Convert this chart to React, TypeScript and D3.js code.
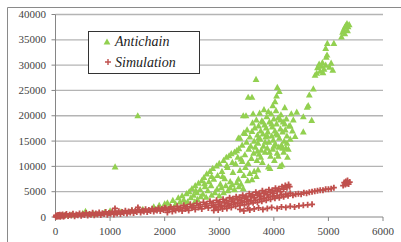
import React from 'react';
import * as d3 from 'd3';

// Antichain points
const antichainLow: [number, number][] = [
  [50, 200], [150, 300], [300, 400], [500, 700], [550, 1100], [700, 600], [900, 900],
  [1000, 1200], [1200, 1000], [1400, 1300], [1600, 1500], [1800, 2000], [1900, 2300], [2000, 2600],
];
const antichainOutliers: [number, number][] = [[1092, 9900], [1507, 20000]];
const antichainRise: [number, number][] = [
  [2050, 2800], [2100, 2200], [2150, 3300], [2200, 2600], [2250, 3800], [2280, 3000], [2320, 4200],
  [2350, 3400], [2400, 4600], [2420, 3000], [2450, 5000], [2480, 3800], [2500, 5600], [2530, 4300],
  [2560, 6200], [2590, 4800], [2600, 3500], [2620, 6700], [2650, 5400], [2680, 7200], [2700, 4500],
  [2720, 7800], [2740, 6000], [2770, 8500], [2790, 5200], [2810, 7000], [2830, 9000], [2850, 6200],
  [2880, 9600], [2900, 7500], [2920, 4800], [2950, 10100], [2970, 8200], [3000, 10600], [3020, 6500],
  [3050, 9000], [3080, 11200], [3100, 7600], [3130, 11800], [3150, 9800], [3180, 12100], [3200, 7000],
  [3220, 12500], [3250, 8800], [3280, 12800], [3300, 10500], [3320, 13100], [3350, 7500], [3380, 9200],
  [3400, 6500], [3420, 11000], [3450, 8200], [3480, 9800], [3520, 7200], [3560, 8600], [3600, 7400],
  [3640, 9000], [3680, 8000], [3710, 9300],
  [2960, 5500], [3000, 4200], [3040, 5800], [3080, 4800], [3120, 6200], [3160, 5200], [3200, 5800],
  [3240, 6400], [3280, 5400], [3320, 6800], [3360, 6000], [3440, 5600], [2860, 4300], [2760, 3900],
  [2660, 4000], [2550, 3000], [2380, 2600], [2860, 8000], [3060, 8000], [3140, 10200], [3240, 10800],
  [3340, 11800], [2730, 6600], [2570, 5200],
];
const antichainCloud: [number, number][] = [
  [3360, 13500], [3380, 15600], [3400, 11500], [3420, 14200], [3440, 20000], [3450, 16600], [3470, 12300],
  [3490, 20000], [3500, 14800], [3510, 17200], [3530, 10600], [3540, 13400], [3560, 15800], [3577, 14000],
  [3590, 11600], [3600, 16900], [3610, 18600], [3630, 12600], [3640, 15000], [3650, 17600], [3660, 13800],
  [3680, 19200], [3690, 11200], [3700, 16200], [3710, 14600], [3720, 18000], [3730, 12400], [3740, 20500],
  [3750, 15400], [3760, 17000], [3770, 13200], [3780, 19000], [3790, 10800], [3800, 16400], [3810, 14000],
  [3820, 21200], [3830, 18200], [3840, 12800], [3850, 15800], [3860, 17600], [3870, 19800], [3880, 13600],
  [3890, 16800], [3900, 9900], [3910, 14800], [3920, 18800], [3930, 9600], [3940, 12000], [3950, 20400],
  [3960, 16000], [3970, 17800], [3980, 13400], [3990, 15200], [4000, 19400], [4010, 11200], [4020, 17000],
  [4030, 14400], [4040, 21000], [4050, 18400], [4060, 12600], [4070, 16200], [4080, 19600], [4090, 13800],
  [4100, 15600], [4114, 10000], [4120, 17400], [4130, 20200], [4140, 14200], [4150, 10300], [4160, 16800],
  [4170, 18800], [4180, 12800], [4190, 15000], [4200, 21600], [4210, 17200], [4220, 13600], [4230, 19400],
  [4240, 16000], [4250, 11800], [4266, 13400], [4280, 18000], [4300, 15400], [4320, 20400], [4340, 17000],
  [3530, 23650], [3600, 23650], [3674, 27200], [4022, 22800], [4050, 23900], [4064, 25600], [4100, 24800],
  [3350, 15600], [3470, 16500],
  [3720, 15600], [3760, 11800], [3800, 18800], [3840, 14800], [3880, 16000], [3920, 12800], [3960, 18400],
  [4000, 14000], [4040, 16400], [4080, 12000], [4120, 19200], [4160, 13600], [4200, 18400], [4240, 14600],
  [3620, 20400], [3980, 22000], [3700, 13000], [3900, 20800],
];
const antichainTail: [number, number][] = [
  [4300, 18000], [4357, 19200], [4390, 15900], [4420, 20700], [4540, 19800], [4540, 16800], [4610, 21700],
  [4630, 22000], [4650, 24100], [4694, 19100], [4724, 25300], [4755, 28000], [4786, 28400], [4800, 29500],
  [4830, 30200], [4850, 28800], [4870, 29800], [4890, 30500], [4900, 28500], [4920, 29200], [4950, 30000],
  [4960, 31600], [4975, 32000], [4950, 33300], [4980, 34300], [5020, 29600], [5050, 30400], [5080, 29000],
  [5100, 34300], [5240, 35600], [5260, 36500], [5280, 37000], [5300, 37500], [5320, 37800], [5340, 38200],
  [5360, 37600], [5380, 38000], [5300, 36200], [5350, 36800],
];

// Simulation points
const simulationLow: [number, number][] = [
  [5, 50], [10, 300], [30, 100], [50, 400], [70, 200], [90, 50], [110, 350], [140, 150], [170, 250],
  [20, 150], [40, 350], [60, 80], [80, 420], [100, 250], [130, 500], [150, 120], [180, 380], [200, 600],
  [230, 200], [260, 450], [290, 300], [320, 650], [350, 150], [380, 500], [410, 350], [440, 700], [470, 250],
  [500, 550], [530, 400], [560, 800], [590, 300], [620, 600], [650, 450], [680, 850], [710, 350], [740, 700],
  [770, 500], [800, 900], [830, 400], [860, 750], [890, 600], [920, 1000], [950, 450], [980, 800], [1010, 650],
  [1040, 1100], [1070, 500], [1090, 1700], [1100, 900], [1130, 700], [1160, 1150], [1190, 600], [1220, 1000],
  [1250, 800], [1280, 1250], [1310, 700], [1340, 1100], [1370, 900], [1400, 1350], [1430, 800], [1460, 1200],
  [1490, 1000], [1510, 1900], [1530, 1450], [1560, 900], [1590, 1300], [1620, 1100], [1650, 1550], [1680, 1000],
  [1710, 1400], [1740, 1200], [1770, 1650], [1800, 1100], [1830, 1500], [1860, 1300], [1890, 1750], [1920, 1200],
  [1950, 1600], [1980, 1400], [2000, 1850],
];
const simulationUpper: [number, number][] = [
  [2020, 1700], [2050, 900], [2080, 1500], [2110, 2000], [2140, 1100], [2170, 1700], [2200, 1300], [2230, 2100],
  [2260, 1500], [2290, 1900], [2320, 1200], [2350, 2300], [2380, 1600], [2410, 2000], [2440, 1300], [2470, 2500],
  [2500, 1800], [2530, 2200], [2560, 1500], [2590, 2700], [2620, 1900], [2650, 2400], [2680, 1600], [2710, 2900],
  [2740, 2100], [2770, 2600], [2800, 1800], [2830, 3100], [2860, 2300], [2890, 2800], [2920, 2000], [2950, 3300],
  [2980, 2500], [3010, 3000], [3040, 2300], [3070, 3500], [3100, 2800], [3130, 3300], [3160, 2600], [3190, 3800],
  [3220, 3100], [3250, 3600], [3280, 2900], [3310, 4000], [3340, 3400], [3370, 3900], [3400, 3200], [3430, 4300],
  [3460, 3700], [3490, 4100], [3520, 3500], [3550, 4600], [3580, 4000], [3610, 4400], [3640, 3800], [3670, 4900],
  [3700, 4300], [3730, 4700], [3760, 4100], [3790, 5200], [3820, 4600], [3850, 5000], [3880, 4400], [3910, 5400],
  [3940, 4800], [3970, 5300], [4000, 4700], [4030, 5700], [4060, 5100], [4090, 5600], [4120, 5000], [4150, 6000],
  [4180, 5500], [4210, 6200], [4240, 5800], [4270, 6400], [4290, 6000],
];
const simulationMiddle: [number, number][] = [
  [2900, 1300], [2940, 1800], [2980, 1400], [3020, 2000], [3060, 1600], [3100, 2100], [3140, 1700], [3180, 2300],
  [3220, 1900], [3260, 2500], [3300, 2100], [3340, 2700], [3380, 2300], [3420, 2900], [3460, 2400], [3500, 3000],
  [3540, 2600], [3580, 3200], [3620, 2800], [3660, 3300], [3700, 2900], [3740, 3500], [3780, 3100], [3820, 3700],
  [3860, 3300], [3900, 3900], [3940, 3500], [3980, 4100], [4020, 3700], [4060, 4200], [4100, 3800], [4140, 4400],
  [4180, 4000], [4220, 4500], [4260, 4200], [4300, 4700], [4350, 4300], [4400, 4500], [4450, 4600], [4500, 4500],
  [4550, 4800], [4600, 4700], [4650, 4900], [4700, 5000], [4750, 5100], [4800, 5200], [4850, 5300], [4900, 5300],
  [4950, 5500], [5000, 5500], [5050, 5600], [5100, 5800],
];
const simulationLowerLine: [number, number][] = [
  [3380, 1500], [3450, 1200], [3520, 1700], [3560, 1400], [3640, 1600], [3720, 1800], [3800, 1500], [3880, 1700],
  [3960, 1900], [4060, 1700], [4140, 2000], [4220, 1900], [4300, 2100], [4380, 2000], [4460, 2200], [4540, 2300],
  [4620, 2400], [4700, 2500],
];
const simulationEnd: [number, number][] = [
  [5270, 6200], [5290, 6800], [5310, 6400], [5320, 7000], [5340, 6600], [5350, 7200], [5370, 6500], [5390, 6900],
];

const xTicks = [0, 1000, 2000, 3000, 4000, 5000, 6000];
const yTicks = [0, 5000, 10000, 15000, 20000, 25000, 30000, 35000, 40000];
const seriesNames = ['Antichain', 'Simulation'];

const GREEN = '#92D050';
const RED = '#C0504D';
const FONT = '"Liberation Serif", serif';

const W = 401, H = 242;
const x = d3.scaleLinear().domain([0, 6000]).range([55.5, 383]);
const y = d3.scaleLinear().domain([0, 40000]).range([217, 14.5]);

const triangle = 'M0,-3.6L3.4,2.6L-3.4,2.6Z';
const plus = 'M-3,0H3M0,-3V3';

export default function App() {
  const antichain = [...antichainLow, ...antichainOutliers, ...antichainRise, ...antichainCloud, ...antichainTail];
  const simulation = [...simulationLow, ...simulationUpper, ...simulationMiddle, ...simulationLowerLine, ...simulationEnd];
  const [x0, x1] = x.range();

  return (
    <svg width={W} height={H} style={{ position: 'absolute', left: 0, top: 0, background: '#fff' }}>
      {/* outer frame */}
      <path d={`M7.5,${H}V7.5H${W}`} fill="none" stroke="#8a8a8a" strokeWidth={1} />

      {/* gridlines */}
      {yTicks.filter(t => t > 0).map(t => (
        <line key={t} x1={x0} x2={x1} y1={y(t)} y2={y(t)} stroke="#b4b4b4" strokeWidth={1.3} />
      ))}

      {/* axes */}
      <line x1={x0} x2={x0} y1={y(40000)} y2={y(0)} stroke="#868686" />
      <line x1={x0} x2={x1} y1={y(0)} y2={y(0)} stroke="#868686" />
      {yTicks.map(t => (
        <g key={t}>
          <line x1={x0 - 4} x2={x0} y1={y(t)} y2={y(t)} stroke="#868686" />
          <text x={46} y={y(t) + 3.5} textAnchor="end" fontFamily={FONT} fontSize={11} fill="#444">{t}</text>
        </g>
      ))}
      {xTicks.map(t => (
        <g key={t}>
          <line x1={x(t)} x2={x(t)} y1={y(0)} y2={y(0) + 4} stroke="#868686" />
          <text x={x(t)} y={235} textAnchor="middle" fontFamily={FONT} fontSize={11} fill="#444">{t}</text>
        </g>
      ))}

      {/* points */}
      <g fill={GREEN}>
        {antichain.map(([a, b], i) => (
          <path key={i} d={triangle} transform={`translate(${x(a)},${y(b)})`} />
        ))}
      </g>
      <g stroke={RED} strokeWidth={1.8} fill="none">
        {simulation.map(([a, b], i) => (
          <path key={i} d={plus} transform={`translate(${x(a)},${y(b)})`} />
        ))}
      </g>

      {/* legend */}
      <rect x={88.5} y={31.5} width={111} height={42} fill="#fff" stroke="#333" strokeWidth={1} />
      <path d={triangle} transform="translate(107,42)" fill={GREEN} />
      <path d={plus} transform="translate(108,62)" stroke={RED} strokeWidth={1.4} />
      {seriesNames.map((n, i) => (
        <text key={n} x={115} y={46 + i * 21} fontFamily={FONT} fontStyle="italic" fontSize={14} fill="#222">{n}</text>
      ))}
    </svg>
  );
}
